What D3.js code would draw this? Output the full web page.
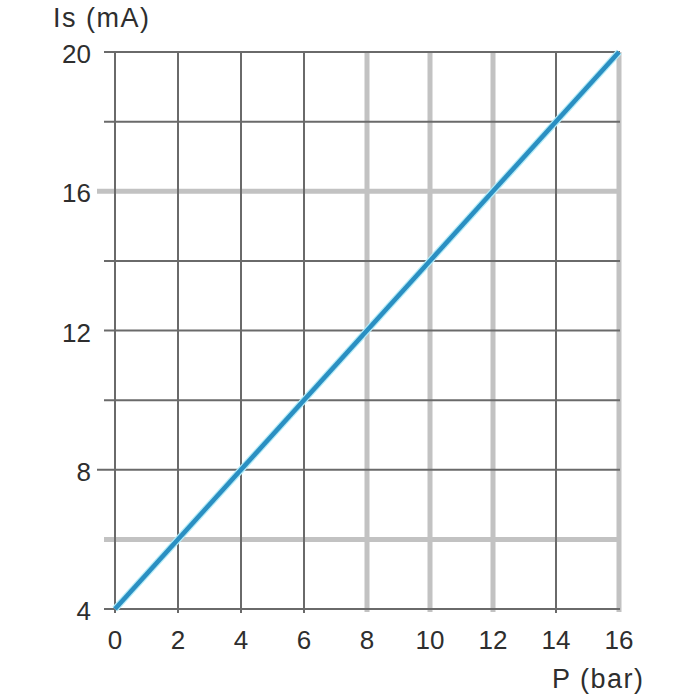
<!DOCTYPE html>
<html>
<head>
<meta charset="utf-8">
<script src="https://cdn.jsdelivr.net/npm/d3@7"></script>
<style>
  html, body { margin: 0; padding: 0; background: #fff; }
  svg { display: block; }
  text { font-family: "Liberation Sans", Arial, sans-serif; fill: #2e2e2e; }
</style>
</head>
<body>
<svg id="chart" width="700" height="700"></svg>
<script>
// Data
const pressure = [0, 16];          // P (bar)
const current  = [4, 20];          // Is (mA)
const xTicks = [0, 2, 4, 6, 8, 10, 12, 14, 16];
const yTicks = [4, 8, 12, 16, 20];
const yGrid  = [4, 6, 8, 10, 12, 14, 16, 18, 20];
// grid lines drawn light/thick
const xLight = [8, 10, 12, 16];
const yLight = [6, 16];

const svg = d3.select("#chart");
const x = d3.scaleLinear().domain([0, 16]).range([115, 619]);
const y = d3.scaleLinear().domain([4, 20]).range([609, 52]);

const dark = "#6a6a6a", light = "#c2c2c2";

const lg = svg.append("g");
yGrid.filter(v => yLight.includes(v)).forEach(v => {
  lg.append("line")
    .attr("x1", v === 16 ? 97 : 104).attr("x2", x(16))
    .attr("y1", y(v)).attr("y2", y(v))
    .attr("stroke", light).attr("stroke-width", 5);
});
xTicks.filter(v => xLight.includes(v)).forEach(v => {
  lg.append("line")
    .attr("x1", x(v)).attr("x2", x(v))
    .attr("y1", y(20)).attr("y2", y(4) + 3)
    .attr("stroke", light).attr("stroke-width", 5);
});
const dg = svg.append("g");
yGrid.filter(v => !yLight.includes(v)).forEach(v => {
  dg.append("line")
    .attr("x1", v === 8 ? 97 : 104).attr("x2", x(16) + 1)
    .attr("y1", y(v)).attr("y2", y(v))
    .attr("stroke", dark).attr("stroke-width", 2);
});
xTicks.filter(v => !xLight.includes(v)).forEach(v => {
  dg.append("line")
    .attr("x1", x(v)).attr("x2", x(v))
    .attr("y1", y(20)).attr("y2", y(4) + 4)
    .attr("stroke", dark).attr("stroke-width", 2);
});

// data line
const line = d3.line().x((d, i) => x(pressure[i])).y((d, i) => y(current[i]));
svg.append("path").datum(pressure).attr("d", line)
  .attr("fill", "none").attr("stroke", "#b4ecf8").attr("stroke-width", 7);
svg.append("path").datum(pressure).attr("d", line)
  .attr("fill", "none").attr("stroke", "#2a8fc2").attr("stroke-width", 4.5);

// tick labels
svg.append("g").selectAll("text").data(yTicks).join("text")
  .attr("x", 91).attr("y", d => y(d) + 2)
  .attr("text-anchor", "end").attr("dominant-baseline", "central")
  .attr("font-size", 26).text(d => d);
svg.append("g").selectAll("text").data(xTicks).join("text")
  .attr("x", d => x(d)).attr("y", 640)
  .attr("text-anchor", "middle").attr("dominant-baseline", "central")
  .attr("font-size", 26).text(d => d);

// axis titles
svg.append("text").attr("x", 53).attr("y", 27).attr("font-size", 27)
  .attr("letter-spacing", 1.5).text("Is (mA)");
svg.append("text").attr("x", 552).attr("y", 688).attr("font-size", 27)
  .attr("letter-spacing", 1.5).text("P (bar)");
</script>
</body>
</html>
